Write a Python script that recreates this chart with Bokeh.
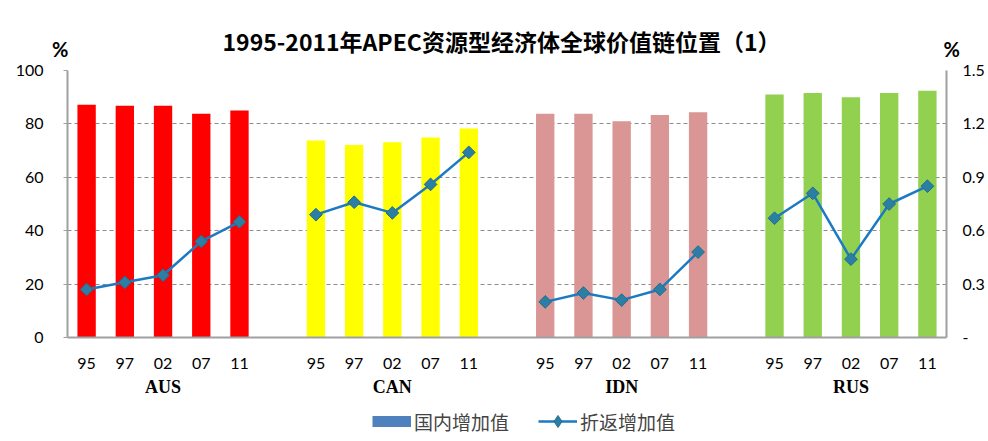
import numpy as np
from bokeh.plotting import figure
from bokeh.layouts import column
from bokeh.models import (Range1d, LinearAxis, ColumnDataSource, Legend, LegendItem, FixedTicker)
from bokeh.core.properties import value
from bokeh.embed import file_html
from bokeh.resources import INLINE

# ---- data ----
title_text = "1995-2011年APEC资源型经济体全球价值链位置（1）"
unit_text = "%"
groups = ["AUS", "CAN", "IDN", "RUS"]
years = ["95", "97", "02", "07", "11"]
# 国内增加值 (left axis, %)
aus_domestic = [87.2, 86.8, 86.8, 83.8, 85.0]
can_domestic = [73.8, 72.1, 73.1, 74.9, 78.3]
idn_domestic = [83.8, 83.8, 81.0, 83.3, 84.4]
rus_domestic = [91.0, 91.6, 90.0, 91.6, 92.4]
# 折返增加值 (right axis, %)
aus_return = [0.27, 0.31, 0.35, 0.54, 0.65]
can_return = [0.69, 0.76, 0.70, 0.86, 1.04]
idn_return = [0.20, 0.25, 0.21, 0.27, 0.48]
rus_return = [0.67, 0.81, 0.44, 0.75, 0.85]
series_names = ["国内增加值", "折返增加值"]
bar_colors = ["#FF0000", "#FFFF00", "#D99694", "#92D050"]
left_ticks = [0, 20, 40, 60, 80, 100]
right_ticks = [0, 0.3, 0.6, 0.9, 1.2, 1.5]
right_labels = ["-", "0.3", "0.6", "0.9", "1.2", "1.5"]

domestic = [aus_domestic, can_domestic, idn_domestic, rus_domestic]
returned = [aus_return, can_return, idn_return, rus_return]

W = 988
FRAME_L, FRAME_R = 67, 946
LINE_C = "#1C7AC4"
MARK_C = "#2B7FA4"
MARK_L = "#236C8C"
TICK_FONT = "Lato"
CJK = "Noto Sans CJK SC"
AX_C = "#A0A0A0"


def no_ticks(ax):
    ax.major_tick_line_color = None
    ax.major_tick_out = 0
    ax.major_tick_in = 0
    ax.minor_tick_line_color = None
    ax.minor_tick_out = 0
    ax.minor_tick_in = 0


def strip(height, yr):
    f = figure(width=W, height=height, output_backend="svg", toolbar_location=None,
               x_range=Range1d(FRAME_L, FRAME_R), y_range=yr, x_axis_type=None, y_axis_type=None,
               min_border_left=FRAME_L, min_border_right=W - FRAME_R,
               min_border_top=0, min_border_bottom=0)
    f.outline_line_color = None
    f.xgrid.visible = False
    f.ygrid.visible = False
    f.border_fill_color = "white"
    return f


# ---- header: title and unit labels ----
top = strip(60, Range1d(60, 0))
top.text(x=[501], y=[40], text=[title_text], text_font=value(CJK), text_font_style="bold",
         text_font_size="23px", text_align="center", text_baseline="middle", text_color="#000000")
for side, standoff in (("left", -1), ("right", -3)):
    ua = LinearAxis(ticker=FixedTicker(ticks=[48]), major_label_overrides={48: unit_text})
    ua.axis_line_color = None
    no_ticks(ua)
    ua.major_label_standoff = standoff
    ua.major_label_text_font = TICK_FONT
    ua.major_label_text_font_style = "bold"
    ua.major_label_text_font_size = "20px"
    ua.major_label_text_color = "#000000"
    top.add_layout(ua, side)

# ---- main chart ----
group_size = len(years) + 1
n_slots = group_size * len(groups) - 1
p = figure(width=W, height=345, output_backend="svg", toolbar_location=None,
           x_range=Range1d(0, n_slots), y_range=Range1d(0, 100), x_axis_type=None,
           min_border_left=FRAME_L, min_border_right=W - FRAME_R, min_border_top=10,
           min_border_bottom=68)
p.extra_y_ranges = {"right": Range1d(0, 1.5)}
p.outline_line_color = None
p.border_fill_color = "white"

bar_pos = []
bar_lab = []
for gi, (g, dom, ret, col) in enumerate(zip(groups, domestic, returned, bar_colors)):
    xs = [gi * group_size + yi + 0.5 for yi in range(len(years))]
    bar_pos += xs
    bar_lab += years
    src = ColumnDataSource(dict(x=xs, dom=dom, ret=ret))
    p.vbar(x="x", top="dom", width=0.48, source=src, fill_color=col, line_color=None)
    p.line(x="x", y="ret", source=src, y_range_name="right", line_color=LINE_C, line_width=2.5)
    p.scatter(x="x", y="ret", source=src, y_range_name="right", marker="square",
              angle=np.pi / 4, size=9, fill_color=MARK_C, line_color=MARK_L, line_width=1)

p.xgrid.visible = False
p.ygrid.ticker = FixedTicker(ticks=left_ticks)
p.ygrid.grid_line_color = "#8C8C8C"
p.ygrid.grid_line_dash = "4 3"
p.ygrid.grid_line_width = 1

# left axis
ya = p.yaxis[0]
ya.ticker = FixedTicker(ticks=left_ticks)
ya.axis_line_color = AX_C
ya.axis_line_width = 2
no_ticks(ya)
ya.major_tick_line_color = AX_C
ya.major_tick_out = 4
ya.major_label_standoff = 20
ya.major_label_text_font = TICK_FONT
ya.major_label_text_font_size = "16px"
ya.major_label_text_color = "#000000"

# right axis
ra = LinearAxis(y_range_name="right", ticker=FixedTicker(ticks=right_ticks),
                major_label_overrides={t: l for t, l in zip(right_ticks, right_labels)})
ra.axis_line_color = AX_C
ra.axis_line_width = 2
no_ticks(ra)
ra.major_label_standoff = 16
ra.major_label_text_font = TICK_FONT
ra.major_label_text_font_size = "16px"
ra.major_label_text_color = "#000000"
p.add_layout(ra, "right")

# bottom axis: years
xa = LinearAxis(ticker=FixedTicker(ticks=bar_pos),
                major_label_overrides={x: l for x, l in zip(bar_pos, bar_lab)})
xa.axis_line_color = AX_C
xa.axis_line_width = 2
no_ticks(xa)
xa.major_label_standoff = 20
xa.major_label_text_font = TICK_FONT
xa.major_label_text_font_size = "16px"
xa.major_label_text_color = "#000000"
p.add_layout(xa, "below")

# bottom axis: groups
group_pos = [gi * group_size + len(years) / 2 for gi in range(len(groups))]
ga = LinearAxis(ticker=FixedTicker(ticks=group_pos),
                major_label_overrides={x: l for x, l in zip(group_pos, groups)})
ga.axis_line_color = None
no_ticks(ga)
ga.major_label_standoff = 5
ga.major_label_text_font = "Liberation Serif"
ga.major_label_text_font_style = "bold"
ga.major_label_text_font_size = "18px"
ga.major_label_text_color = "#000000"
p.add_layout(ga, "below")

# ---- legend strip ----
leg_fig = strip(36, Range1d(0, 36))
blank = ColumnDataSource(dict(x=[np.nan], y=[np.nan]))
lb = leg_fig.line(x="x", y="y", source=blank, line_color="#4F81BD", line_width=11, line_cap="butt")
ll = leg_fig.line(x="x", y="y", source=blank, line_color=LINE_C, line_width=2.5)
lm = leg_fig.scatter(x="x", y="y", source=blank, marker="diamond", size=12,
                     fill_color=MARK_C, line_color=MARK_L)
leg = Legend(items=[LegendItem(label=series_names[0], renderers=[lb]),
                    LegendItem(label=series_names[1], renderers=[ll, lm])],
             location=(372 - FRAME_L, 5), orientation="horizontal", glyph_width=39, glyph_height=30,
             label_standoff=3, spacing=29,
             label_text_font=CJK, label_text_font_size="19px",
             padding=0, margin=0, border_line_color=None, background_fill_alpha=0)
leg_fig.add_layout(leg, "center")

layout = column(top, p, leg_fig, spacing=0)
open("out.html", "w").write(file_html(layout, INLINE))
